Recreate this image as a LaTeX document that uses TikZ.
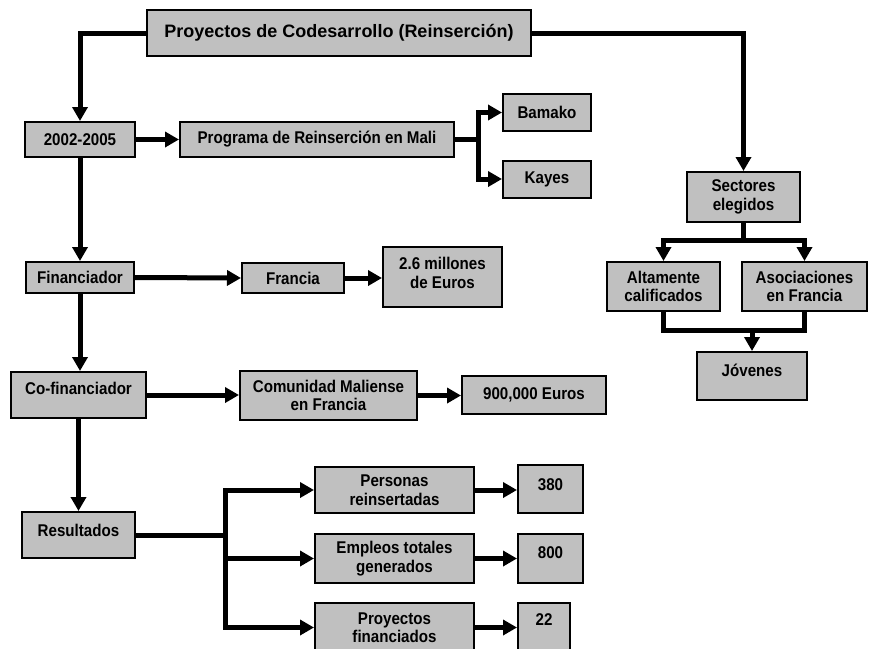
\documentclass[tikz,border=0pt]{standalone}
\usepackage{fontspec}
\setmainfont{Liberation Sans}
\newfontfamily\narrowsans{Liberation Sans}[FakeStretch=0.89]
\usetikzlibrary{arrows.meta,calc}
\definecolor{boxfill}{RGB}{192,192,192}
\begin{document}
\begin{tikzpicture}[x=1pt,y=-1pt,
  box/.style={draw=black,line width=2pt,fill=boxfill,align=center,inner sep=0pt,
    font=\narrowsans\fontsize{17}{18.5}\selectfont\bfseries},
  headbox/.style={box,font=\fontsize{18}{20}\selectfont\bfseries},
  link/.style={line width=5pt,black},
  arrow/.style={link,-{Triangle[length=14pt,width=15pt]}},
  up/.style={text height=12pt,text depth=#1}
]
\fill[white] (0,0) rectangle (870,648);
\useasboundingbox (0,0) rectangle (870,648);

% header and the left column
\node[headbox,minimum width=384,minimum height=46] (title) at (339,33) {Proyectos de Codesarrollo (Reinserción)};
\node[box,minimum width=110,minimum height=35] (period) at (80,139.5) {2002-2005};
\node[box,minimum width=108,minimum height=31] (finan) at (80,277.5) {Financiador};
\node[box,up=14pt,minimum width=135,minimum height=46] (cofin) at (78.5,395) {Co-financiador};
\node[box,up=10pt,minimum width=113,minimum height=46] (result) at (78.5,535) {Resultados};

% programme and places
\node[box,minimum width=274,minimum height=35] (prog) at (317,139.5) {Programa de Reinserción en Mali};
\node[box,minimum width=88,minimum height=37] (bamako) at (547,112.5) {Bamako};
\node[box,minimum width=88,minimum height=37] (kayes) at (547,179) {Kayes};

% funding
\node[box,text height=31pt,text depth=9pt,minimum width=119,minimum height=60] (mill) at (442.5,277) {2.6 millones\\de Euros};
\node[box,minimum width=102,minimum height=30] (francia) at (293,278) {Francia};
\node[box,minimum width=177,minimum height=49] (comun) at (328.5,395.5) {Comunidad Maliense\\en Francia};
\node[box,minimum width=144,minimum height=38] (eur) at (534,395) {900,000 Euros};

% results
\node[box,minimum width=159,minimum height=46] (pers) at (394.5,490) {Personas\\reinsertadas};
\node[box,up=10pt,minimum width=65,minimum height=48] (n380) at (550.5,489) {380};
\node[box,minimum width=159,minimum height=49] (empl) at (394.5,558.5) {Empleos totales\\generados};
\node[box,up=13pt,minimum width=65,minimum height=49] (n800) at (550.5,558.5) {800};
\node[box,minimum width=159,minimum height=49] (proy) at (394.5,627.5) {Proyectos\\financiados};
\node[box,up=16pt,minimum width=52,minimum height=49] (n22) at (544,627.5) {22};

% chosen sectors
\node[box,minimum width=113,minimum height=50] (sect) at (743.5,197) {Sectores\\elegidos};
\node[box,minimum width=113,minimum height=49] (alta) at (663.5,286.5) {Altamente\\calificados};
\node[box,minimum width=125,minimum height=49] (asoc) at (804.5,286.5) {Asociaciones\\en Francia};
\node[box,up=12pt,minimum width=110,minimum height=48] (jov) at (752,376) {Jóvenes};

% branching points
\coordinate (pb) at (478,139.5);
\coordinate (sb) at (743.5,240);
\coordinate (jn) at (752,330);
\coordinate (rb) at (225,535);

% connectors
\draw[arrow] (title.west) -| (period.north);
\draw[arrow] (title.east) -| (sect.north);
\draw[arrow] (period.east) -- (prog.west);
\draw[link] (prog.east) -- (pb);
\draw[arrow] (pb) |- (bamako.west);
\draw[arrow] (pb) |- (kayes.west);
\draw[arrow] (period.south) -- (finan.north);
\draw[arrow] (finan.east) -- (francia.west);
\draw[arrow] (francia.east) -- (francia.east -| mill.west);
\draw[arrow] (finan.south) -- (finan.south |- cofin.north);
\draw[arrow] (cofin.east) -- (cofin.east -| comun.west);
\draw[arrow] (comun.east) -- (comun.east -| eur.west);
\draw[arrow] (cofin.south) -- (result.north);
\draw[link] (result.east) -- (rb);
\draw[arrow] (rb) |- (pers.west);
\draw[arrow] (rb) |- (empl.west);
\draw[arrow] (rb) |- (proy.west);
\draw[arrow] (pers.east) -- (pers.east -| n380.west);
\draw[arrow] (empl.east) -- (empl.east -| n800.west);
\draw[arrow] (proy.east) -- (proy.east -| n22.west);
\draw[link] (sect.south) -- (sb);
\draw[arrow] (sb) -| (alta.north);
\draw[arrow] (sb) -| (asoc.north);
\draw[link] (alta.south) |- (jn) -| (asoc.south);
\draw[arrow] (jn) -- (jov.north);
\end{tikzpicture}
\end{document}
